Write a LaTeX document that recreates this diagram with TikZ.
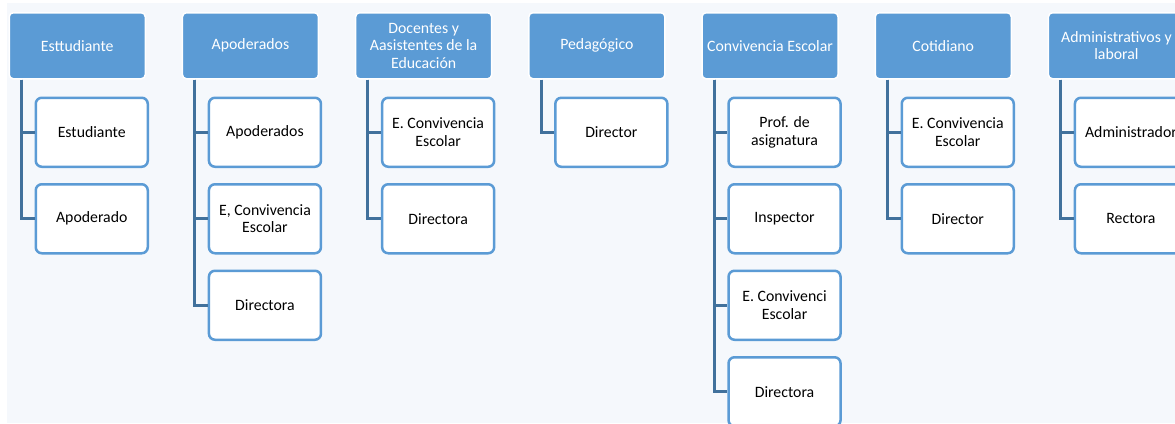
\documentclass[tikz,border=0pt]{standalone}
\usepackage{fontspec}
\setmainfont{Carlito}
\usepackage{tikz}
\usetikzlibrary{calc}
\usetikzlibrary{positioning}

\definecolor{headblue}{HTML}{5B9BD5}
\definecolor{linkblue}{HTML}{41719C}
\definecolor{paper}{HTML}{F5F8FC}

\begin{document}
\begin{tikzpicture}[x=1pt, y=-1pt,
        font=\fontsize{15.8}{17.5}\selectfont,
        head/.style={rectangle, fill=headblue, draw=white, line width=1.5pt, rounded corners=4pt,
            text=white, align=center, minimum width=136pt, minimum height=66pt, inner sep=1pt, anchor=north west},
        kid/.style={rectangle, fill=white, draw=headblue, line width=2.5pt, rounded corners=6pt,
            align=center, minimum width=112pt, minimum height=69pt, inner sep=1pt, anchor=north west},
        link/.style={draw=linkblue, line width=3pt}]
            \useasboundingbox (0, 0) rectangle (1175, 423);
            \clip (0, 0) rectangle (1175, 423);
            \fill[paper] (7, 3) rectangle (1175, 423);
            % column heads
            \foreach \x[count=\i from 1] in {Esttudiante, Apoderados, {Docentes y\\Aasistentes de la\\Educación},
                Pedagógico, Convivencia Escolar, Cotidiano, {Administrativos y\\laboral}}
            {
                \node[head] (h\i) at ({8.5 + 173.2*(\i - 1)}, 12) {\x};
            }
            % boxes under each head
            \foreach \i/\B in {1/{Estudiante, Apoderado},
                2/{Apoderados, {E, Convivencia\\Escolar}, Directora},
                3/{E. Convivencia\\Escolar, Directora},
                4/{Director},
                5/{Prof. de\\asignatura, Inspector, E. Convivenci\\Escolar, Directora},
                6/{E. Convivencia\\Escolar, Director},
                7/{Administrador, Rectora}}
            {
                \foreach \x[count=\j from 1] in \B
                {
                    \node[kid] (c\i\j) at ($(h\i.south west) + (26, {17 + 86.5*(\j - 1)})$) {\x};
                    \draw[link] ($(h\i.south west) + (13, 0)$) |- (c\i\j.west);
                }
            }
        \end{tikzpicture}
\end{document}
